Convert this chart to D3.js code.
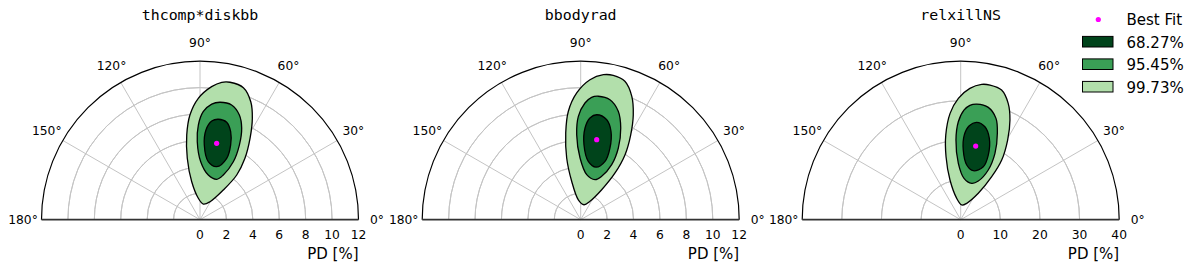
<!DOCTYPE html>
<html>
<head>
<meta charset="utf-8">
<script src="https://cdn.jsdelivr.net/npm/d3@7"></script>
<style>
  body { margin: 0; background: #fff; }
  text { font-family: "DejaVu Sans", sans-serif; fill: #000; }
</style>
</head>
<body>
<svg id="chart" width="1200" height="271"></svg>
<script>
// panel setup
var panelTitles = ["thcomp*diskbb", "bbodyrad", "relxillNS"];
var pdMax = [12, 12, 40];
var pdTicks = [
  [0, 2, 4, 6, 8, 10, 12],
  [0, 2, 4, 6, 8, 10, 12],
  [0, 10, 20, 30, 40]
];
var paTicks = [0, 30, 60, 90, 120, 150, 180];
var levelLabels = ["68.27%", "95.45%", "99.73%"];
var levelColors = ["#00441b", "#3a9f56", "#b2dfab"];

// contours as [PA (deg), PD (%)]
var thcomp99 = [[77.7,10.65],[71.8,10.52],[66.7,9.72],[62.7,8.64],[58.4,7.23],[53.8,5.76],[50.6,4.38],[51.9,2.86],[60.9,1.56],[78.1,1.21],[94.5,1.63],[102.3,2.94],[101.7,4.75],[98.9,6.49],[95.5,7.96],[90.8,9.19],[85.0,10.11],[81.0,10.53]];
var thcomp95 = [[80.3,9.02],[74.6,9.01],[69.4,8.47],[65.5,7.61],[62.2,6.39],[60.1,5.06],[62.5,3.82],[67.5,3.31],[79.5,3.44],[89.3,4.39],[92.0,5.91],[91.0,7.17],[88.3,8.18],[84.2,8.80]];
var thcomp68 = [[79.7,7.73],[74.7,7.65],[70.8,7.06],[67.7,6.11],[66.5,5.07],[72.5,4.21],[81.9,4.44],[86.7,5.66],[86.2,6.81],[83.2,7.52]];

var bbody99 = [[77.3,11.20],[72.3,11.00],[67.5,10.11],[63.4,8.89],[59.5,7.46],[55.7,5.96],[53.7,4.39],[55.0,2.77],[63.2,1.56],[77.6,1.16],[96.8,1.52],[103.2,2.99],[102.8,4.79],[99.8,6.66],[96.5,8.26],[91.8,9.60],[86.2,10.62],[81.1,11.11]];
var bbody95 = [[81.9,9.44],[76.3,9.35],[70.9,8.69],[66.4,7.57],[62.3,6.13],[60.6,4.78],[64.2,3.65],[70.3,3.22],[82.4,3.44],[90.6,4.67],[92.7,6.44],[91.3,7.83],[87.9,8.84],[84.9,9.30]];
var bbody68 = [[81.3,8.04],[75.4,7.82],[71.1,7.08],[67.8,5.86],[67.4,4.79],[73.8,4.15],[82.6,4.46],[87.5,5.68],[87.3,6.95],[84.8,7.73]];

var relxill99 = [[77.7,34.77],[72.5,34.31],[67.8,31.72],[63.7,28.05],[59.5,23.34],[55.5,18.27],[54.2,13.37],[56.3,8.00],[69.9,4.40],[86.1,3.72],[100.6,5.49],[105.1,10.37],[103.1,16.32],[100.0,21.69],[95.7,26.97],[91.1,30.63],[86.0,33.22],[81.2,34.56]];
var relxill95 = [[82.1,29.46],[76.2,29.19],[70.8,27.08],[67.0,23.67],[62.7,18.85],[61.0,14.34],[65.5,10.72],[73.2,9.59],[85.4,10.47],[92.4,14.24],[93.4,20.13],[91.4,24.72],[88.3,27.68],[85.4,28.95]];
var relxill68 = [[80.7,24.89],[75.4,24.24],[70.6,21.76],[66.9,17.74],[66.9,14.53],[75.6,12.76],[83.7,13.88],[87.9,17.59],[87.6,21.38],[84.8,23.81]];

var bestFit = [[77.7, 5.92], [78.7, 6.18], [78.5, 18.97]];
var contours = [
  [thcomp68, thcomp95, thcomp99],
  [bbody68, bbody95, bbody99],
  [relxill68, relxill95, relxill99]
];

var svg = d3.select("#chart");
var cy = 219.7, R = 158.5;
var cxs = [200, 580.7, 960.7];

// PA 0 = east, counterclockwise; lineRadial angle is clockwise from north
var angle = d3.scaleLinear().domain([0, 180]).range([Math.PI / 2, -Math.PI / 2]);

panelTitles.forEach(function(title, i) {
  var r = d3.scaleLinear().domain([0, pdMax[i]]).range([0, R]);
  var g = svg.append("g").attr("transform", "translate(" + cxs[i] + "," + cy + ")");

  // radial grid circles (half)
  var arc = d3.arc().startAngle(-Math.PI / 2).endAngle(Math.PI / 2);
  pdTicks[i].slice(1, -1).forEach(function(t) {
    g.append("path")
      .attr("d", arc({ innerRadius: r(t), outerRadius: r(t) }))
      .attr("fill", "none")
      .attr("stroke", "#c4c4c4")
      .attr("stroke-width", 1);
  });
  // angular grid lines
  paTicks.slice(1, -1).forEach(function(t) {
    var a = angle(t);
    g.append("line")
      .attr("x1", 0).attr("y1", 0)
      .attr("x2", R * Math.sin(a)).attr("y2", -R * Math.cos(a))
      .attr("stroke", "#c4c4c4")
      .attr("stroke-width", 1);
  });

  // contours, widest first
  var line = d3.lineRadial()
    .angle(function(d) { return angle(d[0]); })
    .radius(function(d) { return r(d[1]); })
    .curve(d3.curveCatmullRomClosed.alpha(0.5));
  [2, 1, 0].forEach(function(k) {
    g.append("path")
      .attr("d", line(contours[i][k]))
      .attr("fill", levelColors[k])
      .attr("stroke", "#000")
      .attr("stroke-width", 1.3);
  });

  // best fit
  var bf = bestFit[i];
  g.append("circle")
    .attr("cx", r(bf[1]) * Math.sin(angle(bf[0])))
    .attr("cy", -r(bf[1]) * Math.cos(angle(bf[0])))
    .attr("r", 2.6)
    .attr("fill", "#ff00ff");

  // frame: outer arc + baseline
  g.append("path")
    .attr("d", arc({ innerRadius: R, outerRadius: R }))
    .attr("fill", "none")
    .attr("stroke", "#000")
    .attr("stroke-width", 1.2);
  g.append("line")
    .attr("x1", -R).attr("x2", R).attr("y1", 0).attr("y2", 0)
    .attr("stroke", "#333")
    .attr("stroke-width", 1.7);

  // angle labels
  paTicks.forEach(function(t) {
    var a = angle(t);
    g.append("text")
      .attr("x", 177 * Math.sin(a))
      .attr("y", -177 * Math.cos(a))
      .attr("text-anchor", "middle")
      .attr("dominant-baseline", "central")
      .style("font-size", "12.3px")
      .text(t + "°");
  });

  // PD tick labels
  pdTicks[i].forEach(function(t) {
    g.append("text")
      .attr("x", r(t))
      .attr("y", 19.6)
      .attr("text-anchor", "middle")
      .style("font-size", "12.3px")
      .text(t);
  });
  g.append("text")
    .attr("x", R)
    .attr("y", 39.6)
    .attr("text-anchor", "end")
    .style("font-size", "15px")
    .text("PD [%]");

  // title
  g.append("text")
    .attr("x", 0)
    .attr("y", 20 - cy)
    .attr("text-anchor", "middle")
    .style("font-family", "'DejaVu Sans Mono', monospace")
    .style("font-size", "14.9px")
    .text(title);
});

// legend
var leg = svg.append("g");
leg.append("circle").attr("cx", 1098.3).attr("cy", 19.5).attr("r", 2.6).attr("fill", "#ff00ff");
leg.append("text").attr("x", 1126.5).attr("y", 25).style("font-size", "15px").text("Best Fit");
levelLabels.forEach(function(lab, k) {
  var y = 41.7 + k * 22.5;
  leg.append("rect")
    .attr("x", 1082.5).attr("y", y - 5.3)
    .attr("width", 30.5).attr("height", 10.6)
    .attr("fill", levelColors[k])
    .attr("stroke", "#000")
    .attr("stroke-width", 1);
  leg.append("text").attr("x", 1126.5).attr("y", y + 6).style("font-size", "15px").text(lab);
});
</script>
</body>
</html>
